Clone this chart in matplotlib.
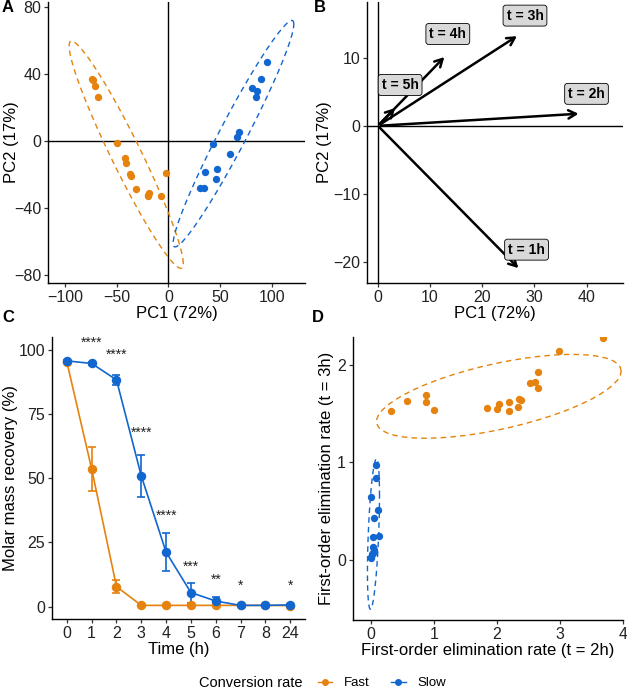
import numpy as np
import matplotlib
matplotlib.use("Agg")
import matplotlib.pyplot as plt
from matplotlib.lines import Line2D

plt.rcParams['font.family'] = ['Liberation Sans', 'DejaVu Sans']

ORANGE = '#E6820E'
BLUE = '#1266CF'

# --- panel A: PCA scores
fast_pc1 = [-74.2, -73.2, -71.0, -67.7, -49.4, -41.6, -41.0, -37.1, -36.1, -31.3, -19.4, -18.4, -20.0, -6.8, -2.6]
fast_pc2 = [37.1, 36.3, 32.8, 26.5, -1.0, -10.3, -13.2, -19.8, -21.1, -28.6, -32.2, -31.2, -33.0, -32.6, -19.4]
slow_pc1 = [94.8, 89.0, 80.6, 85.8, 84.2, 68.1, 66.5, 43.5, 59.7, 35.2, 46.8, 46.1, 30.0, 33.9]
slow_pc2 = [47.0, 37.1, 31.6, 29.6, 26.1, 5.1, 2.6, -2.0, -7.5, -18.4, -16.8, -22.7, -28.2, -27.9]

# --- panel B: loadings
load_names = ['t = 1h', 't = 2h', 't = 3h', 't = 4h', 't = 5h']
load_pc1 = [27.3, 39.0, 27.1, 13.1, 3.65]
load_pc2 = [-21.2, 1.8, 13.4, 10.4, 2.9]
lab_dx = [1.2, 1.0, 1.1, 0.3, 0.6]
lab_dy = [3.0, 2.9, 2.8, 3.1, 3.1]

# --- panel C: recovery over time
time_labels = ['0', '1', '2', '3', '4', '5', '6', '7', '8', '24']
fast_mean = [95.2, 53.6, 7.8, 0.5, 0.5, 0.5, 0.5, 0.5, 0.5, 0.4]
fast_sd = [0.5, 8.7, 2.6, 0.2, 0.2, 0.2, 0.2, 0.2, 0.2, 0.2]
slow_mean = [95.7, 94.7, 88.3, 50.9, 21.2, 5.5, 2.2, 0.5, 0.5, 0.7]
slow_sd = [0.5, 0.5, 1.8, 8.2, 7.5, 3.9, 1.7, 0.2, 0.2, 0.2]
stars = ['', '****', '****', '****', '****', '***', '**', '*', '', '*']
star_y = [0, 102.8, 98.0, 67.9, 35.3, 15.6, 10.4, 8.1, 0, 8.1]

# --- panel D: elimination rates
fast_k2 = [0.33, 0.58, 0.876, 0.876, 1.01, 1.84, 2.0, 2.04, 2.19, 2.2, 2.34, 2.35, 2.38, 2.53, 2.61, 2.65, 2.65, 2.99, 3.68]
fast_k3 = [1.53, 1.63, 1.69, 1.62, 1.54, 1.56, 1.55, 1.60, 1.62, 1.53, 1.57, 1.65, 1.64, 1.82, 1.83, 1.77, 1.93, 2.15, 2.28]
slow_k2 = [0.08, 0.08, 0.0, 0.12, 0.05, 0.04, 0.14, 0.04, 0.05, 0.02, 0.01, 0.0, 0.04]
slow_k3 = [0.97, 0.84, 0.64, 0.51, 0.43, 0.23, 0.24, 0.13, 0.10, 0.055, 0.027, 0.013, 0.07]


def cov_trob(x, nu=5, maxit=25, tol=0.01):
    # same idea as MASS::cov.trob (what stat_ellipse uses)
    n, p = x.shape
    wt = np.ones(n)
    loc = x.mean(axis=0)
    w = np.sqrt(wt)
    for _ in range(maxit):
        w0 = w
        X = x - loc
        _, d, vt = np.linalg.svd(np.sqrt(w / w.sum())[:, None] * X, full_matrices=False)
        wX = X @ vt.T @ np.diag(1 / d)
        Q = (wX ** 2).sum(axis=1)
        w = wt * (nu + p) / (nu + Q)
        loc = (w[:, None] * x).sum(axis=0) / w.sum()
        if np.all(np.abs(w - w0) < tol):
            break
    X = x - loc
    cov = (np.sqrt(w)[:, None] * X).T @ (np.sqrt(w)[:, None] * X) / wt.sum()
    return loc, cov


def stat_ellipse(xs, ys, level=0.95, segments=51):
    data = np.column_stack([xs, ys])
    center, shape = cov_trob(data)
    n = len(xs)
    d2 = n - 1
    qf = (d2 / 2.0) * ((1 - level) ** (-2.0 / d2) - 1)  # F quantile for df1 = 2
    radius = np.sqrt(2 * qf)
    chol = np.linalg.cholesky(shape).T  # upper, like R chol()
    ang = np.linspace(0, 2 * np.pi, segments + 1)
    circ = np.column_stack([np.cos(ang), np.sin(ang)])
    ell = center + radius * (circ @ chol)
    return ell[:, 0], ell[:, 1]


def style_ax(ax):
    for s in ['top', 'right']:
        ax.spines[s].set_visible(False)
    for s in ['left', 'bottom']:
        ax.spines[s].set_linewidth(1.0)
        ax.spines[s].set_color('black')
    ax.tick_params(labelsize=11.5, colors='#333333', length=3, width=0.9, pad=2, labelcolor='#222222')


fig = plt.figure(figsize=(6.27, 6.9), dpi=100)
W, H = 627, 690


def add_ax(l, r, t, b):
    return fig.add_axes([l / W, 1 - b / H, (r - l) / W, (b - t) / H])


def place_ylabel(ax, l, r, x_px):
    # put y title at a fixed pixel column, like in the reference
    ax.yaxis.set_label_coords((x_px - l) / (r - l), 0.5)


dash = (0, (4, 3))

# ---------------- A
axA = add_ax(48, 305, 2, 283)
axA.axhline(0, color='black', lw=1)
axA.axvline(0, color='black', lw=1)
for px, py, c in [(fast_pc1, fast_pc2, ORANGE), (slow_pc1, slow_pc2, BLUE)]:
    ex, ey = stat_ellipse(px, py)
    axA.plot(ex, ey, color=c, lw=1, linestyle=dash)
    axA.scatter(px, py, s=28, color=c, zorder=3, linewidths=0)
axA.set_xlim(-116.5, 132)
axA.set_ylim(-84.8, 83)
axA.set_xticks([-100, -50, 0, 50, 100])
axA.set_yticks([-80, -40, 0, 40, 80])
axA.set_xlabel('PC1 (72%)', fontsize=12, labelpad=1)
axA.set_ylabel('PC2 (17%)', fontsize=12, va='center')
place_ylabel(axA, 48, 305, 12)
style_ax(axA)

# ---------------- B
axB = add_ax(367, 623, 2, 283)
axB.axhline(0, color='black', lw=1)
axB.axvline(0, color='black', lw=1)
for name, x, y, dx, dy in zip(load_names, load_pc1, load_pc2, lab_dx, lab_dy):
    axB.annotate('', xy=(x, y), xytext=(0, 0),
                 arrowprops=dict(arrowstyle='->,head_length=0.55,head_width=0.3', color='black', lw=1.8))
    axB.text(x + dx, y + dy, name, ha='center', va='center', fontsize=10, fontweight='bold',
             bbox=dict(boxstyle='round,pad=0.25,rounding_size=0.2', facecolor='#D9D9D9',
                       edgecolor='black', linewidth=0.6))
axB.set_xlim(-2.1, 47)
axB.set_ylim(-23.1, 18.2)
axB.set_xticks([0, 10, 20, 30, 40])
axB.set_yticks([-20, -10, 0, 10])
axB.set_xlabel('PC1 (72%)', fontsize=12, labelpad=1)
axB.set_ylabel('PC2 (17%)', fontsize=12, va='center')
place_ylabel(axB, 367, 623, 325)
style_ax(axB)

# ---------------- C
axC = add_ax(52, 305, 337, 619)
pos = np.arange(len(time_labels))
for m, sd, c in [(fast_mean, fast_sd, ORANGE), (slow_mean, slow_sd, BLUE)]:
    axC.errorbar(pos, m, yerr=sd, color=c, lw=1.2, marker='o', markersize=5.8,
                 capsize=3, capthick=1.2, elinewidth=1.2)
for i, (s, yy) in enumerate(zip(stars, star_y)):
    if s:
        axC.text(pos[i], yy, s, ha='center', va='center', fontsize=10, color='#222222')
axC.set_xlim(-0.6, 9.6)
axC.set_ylim(-4.8, 105)
axC.set_xticks(pos)
axC.set_xticklabels(time_labels)
axC.set_yticks([0, 25, 50, 75, 100])
axC.set_xlabel('Time (h)', fontsize=12, labelpad=1)
axC.set_ylabel('Molar mass recovery (%)', fontsize=12, va='center')
place_ylabel(axC, 52, 305, 11)
style_ax(axC)

# ---------------- D
axD = add_ax(353, 623, 337, 620)
for px, py, c in [(fast_k2, fast_k3, ORANGE), (slow_k2, slow_k3, BLUE)]:
    ex, ey = stat_ellipse(px, py)
    axD.plot(ex, ey, color=c, lw=1, linestyle=dash)
    axD.scatter(px, py, s=28, color=c, zorder=3, linewidths=0)
axD.set_xlim(-0.28, 4.0)
axD.set_ylim(-0.62, 2.29)
axD.set_xticks([0, 1, 2, 3, 4])
axD.set_yticks([0, 1, 2])
axD.set_xlabel('First-order elimination rate (t = 2h)', fontsize=12, labelpad=1)
axD.set_ylabel('First-order elimination rate (t = 3h)', fontsize=12, va='center')
place_ylabel(axD, 353, 623, 327)
style_ax(axD)

# panel letters
for lbl, x, y in [('A', 8, 8), ('B', 320, 8), ('C', 8, 318), ('D', 318, 318)]:
    fig.text(x / W, 1 - y / H, lbl, fontsize=12, fontweight='bold', ha='center', va='center')

# legend
fig.text(199 / W, 1 - 683 / H, 'Conversion rate', fontsize=10.5, ha='left', va='center')
handles = [Line2D([], [], color=ORANGE, marker='o', markersize=4, lw=1),
           Line2D([], [], color=BLUE, marker='o', markersize=4, lw=1)]
fig.legend(handles, ['Fast', 'Slow'], ncol=2, frameon=False, fontsize=9.5,
           loc='center left', bbox_to_anchor=(306 / W, 1 - 683 / H),
           handlelength=1.1, handletextpad=0.9, columnspacing=1.6)

fig.savefig('out.png', dpi=100)
